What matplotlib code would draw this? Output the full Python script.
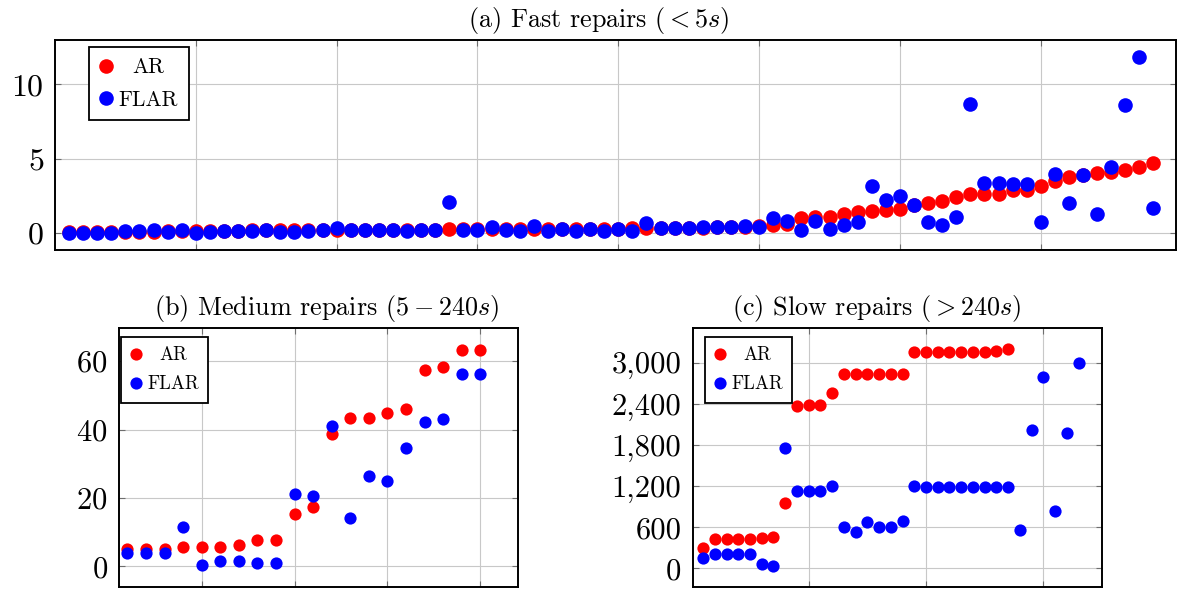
import matplotlib.pyplot as plt
import numpy as np
from matplotlib.ticker import FuncFormatter

plt.rcParams['font.family'] = 'cmr10'
plt.rcParams['mathtext.fontset'] = 'cm'
plt.rcParams['axes.formatter.use_mathtext'] = True

# (a) fast repairs, seconds
ar_fast = [0.02, 0.03, 0.03, 0.04, 0.05, 0.06, 0.07, 0.12, 0.12, 0.13, 0.13, 0.14, 0.14, 0.15, 0.15,
           0.16, 0.17, 0.17, 0.18, 0.18, 0.19, 0.19, 0.20, 0.20, 0.20, 0.21, 0.21, 0.22, 0.22, 0.23,
           0.24, 0.24, 0.25, 0.25, 0.26, 0.26, 0.27, 0.27, 0.28, 0.28, 0.29, 0.29, 0.30, 0.31, 0.33,
           0.34, 0.35, 0.36, 0.38, 0.45, 0.52, 0.60, 1.00, 1.06, 1.08, 1.25, 1.38, 1.45, 1.53, 1.60,
           1.88, 1.98, 2.12, 2.38, 2.58, 2.60, 2.60, 2.90, 2.91, 3.13, 3.47, 3.77, 3.87, 4.05, 4.12,
           4.23, 4.46, 4.70]
flar_fast = [0.0, 0.0, 0.0, 0.0, 0.13, 0.13, 0.18, 0.07, 0.18, 0.0, 0.05, 0.13, 0.13, 0.13, 0.18,
             0.02, 0.02, 0.13, 0.18, 0.29, 0.18, 0.18, 0.18, 0.18, 0.13, 0.18, 0.18, 2.05, 0.18, 0.18,
             0.40, 0.18, 0.11, 0.47, 0.11, 0.25, 0.11, 0.25, 0.11, 0.25, 0.11, 0.63, 0.32, 0.32, 0.34,
             0.38, 0.38, 0.38, 0.45, 0.40, 1.00, 0.78, 0.20, 0.77, 0.26, 0.49, 0.72, 3.18, 2.23, 2.46,
             1.90, 0.70, 0.54, 1.03, 8.70, 3.33, 3.35, 3.25, 3.25, 0.70, 3.98, 2.03, 3.88, 1.26, 4.40,
             8.62, 11.85, 1.65]

# (b) medium repairs
ar_medium = [5.2, 5.2, 5.2, 5.7, 5.7, 5.7, 6.2, 7.6, 7.6, 15.4, 17.4, 38.6, 43.3, 43.5, 44.8,
             45.9, 57.3, 58.3, 63.3, 63.3]
flar_medium = [3.9, 3.9, 3.9, 11.5, 0.3, 1.5, 1.6, 1.0, 1.0, 21.1, 20.6, 41.1, 14.2, 26.5, 25.0,
               34.7, 42.3, 43.0, 56.3, 56.3]

# (c) slow repairs (AR has no value for the last six cases)
ar_slow = [292, 423, 423, 423, 423, 438, 462, 948, 2368, 2377, 2377, 2562, 2835, 2835, 2835,
           2835, 2835, 2835, 3150, 3150, 3150, 3150, 3150, 3160, 3160, 3175, 3194]
flar_slow = [156, 204, 204, 204, 204, 63, 39, 1760, 1128, 1128, 1128, 1206, 608, 535, 681,
             608, 608, 690, 1201, 1181, 1181, 1181, 1181, 1181, 1181, 1181, 1181, 559, 2018, 2786,
             836, 1979, 2990]

titles = ['(a) Fast repairs ($<5s$)', '(b) Medium repairs ($5-240s$)', '(c) Slow repairs ($>240s$)']
labels = [r'AR', r'FLAR']


def style_axes(ax, xticks, yticks, fs):
    ax.set_xticks(xticks)
    ax.set_yticks(yticks)
    ax.grid(True, color='#c8c8c8', lw=0.8)
    ax.set_axisbelow(True)
    ax.tick_params(direction='in', top=True, right=True, length=4, width=0.8,
                   color='#6e6e6e', labelbottom=False, labelsize=fs, pad=8)
    for s in ax.spines.values():
        s.set_linewidth(1.4)
        s.set_color('black')


def center_legend_text(fig, leg):
    # pgfplots centers legend entries in their column
    fig.canvas.draw()
    r = fig.canvas.get_renderer()
    texts = leg.get_texts()
    widths = [t.get_window_extent(r).width for t in texts]
    wmax = max(widths)
    for t, w in zip(texts, widths):
        t.set_position(((wmax - w) / 2, 0))


fig = plt.figure(figsize=(11.82, 5.90), dpi=100)
ax_a = fig.add_axes([55 / 1182, 1 - 250 / 590, 1121 / 1182, 210 / 590])
ax_b = fig.add_axes([119 / 1182, 1 - 587 / 590, 398.5 / 1182, 259 / 590])
ax_c = fig.add_axes([692.5 / 1182, 1 - 587 / 590, 409.5 / 1182, 259 / 590])

panels = [
    (ax_a, ar_fast, flar_fast, 10.5, 15.5, [10, 20, 30, 40, 50, 60, 70], [0, 5, 10],
     (0, 79.6), (-1.17, 13.0), (0.030, 0.967), 23),
    (ax_b, ar_medium, flar_medium, 8.8, 13.5, [5, 10, 15, 20], [0, 20, 40, 60],
     (0.55, 22.0), (-6.0, 69.7), (0.005, 0.966), 22),
    (ax_c, ar_slow, flar_slow, 8.8, 13.5, [10, 20, 30], [0, 600, 1200, 1800, 2400, 3000],
     (0.1, 35.0), (-270, 3505), (0.0305, 0.966), 22),
]

for ax, ar, flar, ms, lfs, xt, yt, xl, yl, lpos, fs in panels:
    ax.plot(np.arange(1, len(ar) + 1), ar, 'o', color='#ff0000', ms=ms, mew=0, label=labels[0])
    ax.plot(np.arange(1, len(flar) + 1), flar, 'o', color='#0000ff', ms=ms, mew=0, label=labels[1])
    style_axes(ax, xt, yt, fs)
    ax.set_xlim(*xl)
    ax.set_ylim(*yl)
    leg = ax.legend(loc='upper left', bbox_to_anchor=lpos, borderaxespad=0, fancybox=False,
                    framealpha=1, edgecolor='black', fontsize=lfs, handlelength=0.6,
                    handletextpad=0.3, borderpad=0.5, labelspacing=0.6)
    leg.get_frame().set_linewidth(1.3)
    center_legend_text(fig, leg)

ax_c.yaxis.set_major_formatter(FuncFormatter(lambda v, p: f'{v:,.0f}'))

ax_a.set_title(titles[0], x=0.485, fontsize=18.8, pad=9)
ax_b.set_title(titles[1], x=0.52, fontsize=18.8, pad=9)
ax_c.set_title(titles[2], x=0.45, fontsize=18.8, pad=9)

fig.savefig('out.png', dpi=100)
